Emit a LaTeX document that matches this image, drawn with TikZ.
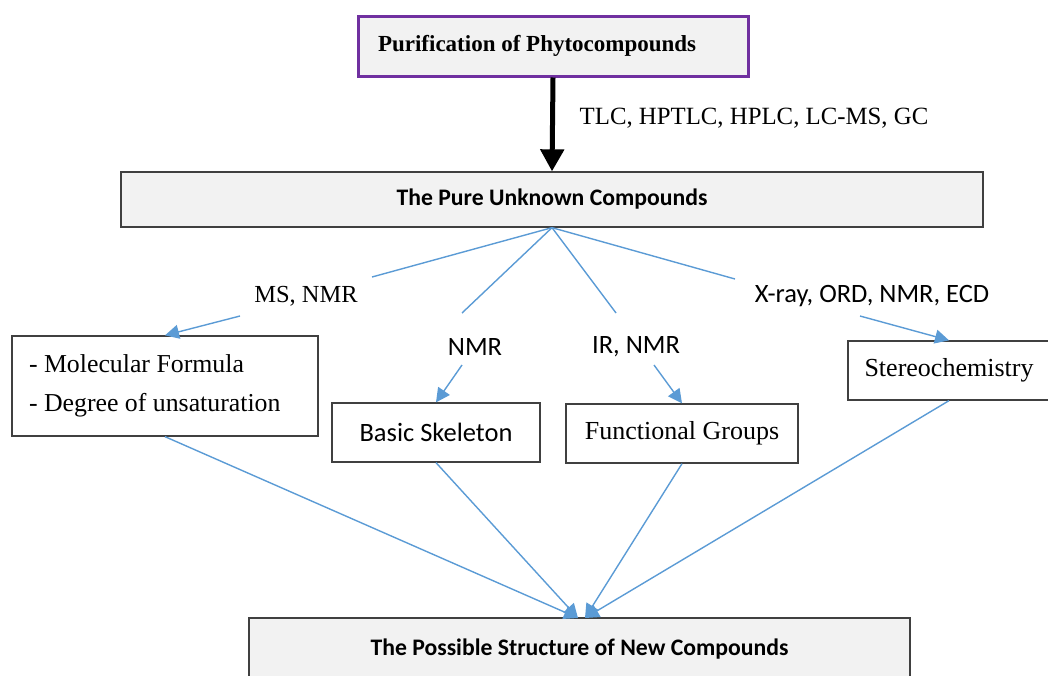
\documentclass[tikz,border=0pt]{standalone}
\usepackage{fontspec}
\setmainfont{Liberation Serif}
\newfontfamily\calibri{Carlito}
\usetikzlibrary{arrows.meta}
\definecolor{boxgray}{HTML}{F2F2F2}
\definecolor{purp}{HTML}{7030A0}
\definecolor{lineblue}{HTML}{5B9BD5}

\begin{document}
\begin{tikzpicture}[x=1pt,y=-1pt,
  box/.style={draw=black!75, line width=1.3pt, rectangle, inner sep=0pt},
  link/.style={lineblue, line width=1.4pt},
  linkarrow/.style={link, -{Triangle[length=14pt,width=14pt]}},
  serif/.style={font=\fontsize{26}{30}\selectfont},
  sans/.style={font=\calibri\fontsize{26.5}{30}\selectfont},
  boldsans/.style={font=\calibri\bfseries\fontsize{23.7}{28}\selectfont}]
\useasboundingbox (0,0) rectangle (1048,675);
% boxes
\node[box, draw=purp, line width=3pt, fill=boxgray, font=\bfseries\fontsize{23}{27}\selectfont, text width=350pt, align=left, inner xsep=20pt, minimum height=60pt] (purif) at (553,46) {\spaceskip=0pt Purification of Phytocompounds};
\node[box, fill=boxgray, boldsans, minimum width=862pt, minimum height=55pt] (pure) at (552,199.5) {The Pure Unknown Compounds};
\node[box, fill=white, text width=272pt, align=left, inner xsep=17pt, minimum height=100pt, font=\fontsize{25.8}{39}\selectfont] (molec) at (165,386) {\spaceskip=0pt - Molecular Formula\\- Degree of unsaturation};
\node[box, fill=white, sans, minimum width=208pt, minimum height=59pt] (skel) at (436,432.5) {Basic Skeleton};
\node[box, fill=white, serif, minimum width=232pt, minimum height=59pt] (func) at (682,433.5) {Functional Groups};
\node[box, fill=white, serif, minimum width=202pt, minimum height=59pt] (stereo) at (949,370.5) {Stereochemistry};
\node[box, fill=boxgray, boldsans, minimum width=661pt, minimum height=62pt] (poss) at (579.5,649) {The Possible Structure of New Compounds};
% labels
\node[font=\fontsize{24.8}{28}\selectfont] (tlcl) at (754,118) {TLC, HPTLC, HPLC, LC-MS, GC};
\node[font=\fontsize{24.5}{28}\selectfont] (msl) at (306,296) {MS, NMR};
\node[sans] (nmrl) at (475,347) {NMR};
\node[sans] (irl) at (636,347) {IR, NMR};
\node[sans] (xrl) at (872,296) {X-ray, ORD, NMR, ECD};
% free ends
\coordinate (msend) at (372,277);
\coordinate (nmrend) at (462,313);
\coordinate (irend) at (616,313);
\coordinate (xrend) at (735,279);
\coordinate (msbeg) at (240,316);
\coordinate (nmrbeg) at (462,365);
\coordinate (irbeg) at (654,365);
\coordinate (xrbeg) at (860,316);
\coordinate (tipA) at (578,618);
\coordinate (tipB) at (585,618);
% connectors
\draw[line width=5pt, -{Triangle[length=22pt,width=23pt]}] (purif.south) -- (pure.north);
\draw[link] (pure.south) -- (msend);
\draw[link] (pure.south) -- (nmrend);
\draw[link] (pure.south) -- (irend);
\draw[link] (pure.south) -- (xrend);
\draw[linkarrow] (msbeg) -- (molec.north);
\draw[linkarrow] (nmrbeg) -- (skel.north);
\draw[linkarrow] (irbeg) -- (func.north);
\draw[linkarrow] (xrbeg) -- (stereo.north);
\draw[linkarrow] (molec.south) -- (tipA);
\draw[linkarrow] (skel.south) -- (tipA);
\draw[linkarrow] (func.south) -- (tipB);
\draw[linkarrow] (stereo.south) -- (tipB);
\end{tikzpicture}
\end{document}
